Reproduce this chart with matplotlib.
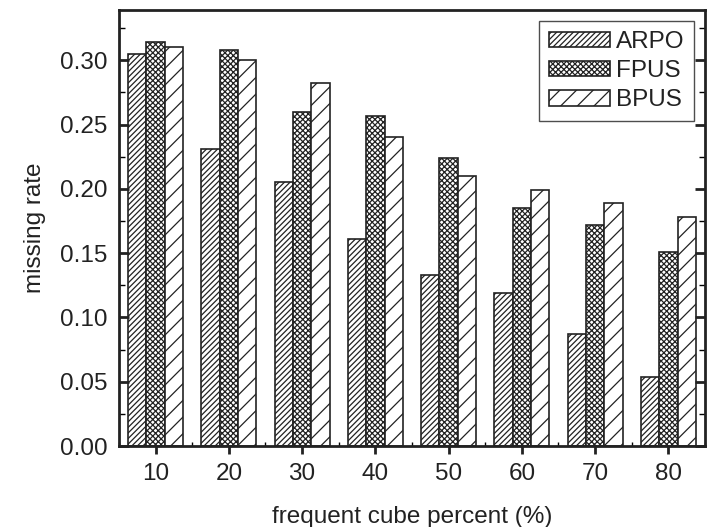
import numpy as np
import matplotlib
matplotlib.use("Agg")
import matplotlib.pyplot as plt
from matplotlib.ticker import MultipleLocator, FormatStrFormatter

plt.rcParams["font.family"] = ["Liberation Sans", "DejaVu Sans"]
plt.rcParams["hatch.linewidth"] = 0.9
plt.rcParams["hatch.color"] = "#222222"

percents = ["10", "20", "30", "40", "50", "60", "70", "80"]
arpo = [0.305, 0.231, 0.205, 0.161, 0.133, 0.119, 0.087, 0.054]
fpus = [0.314, 0.308, 0.260, 0.257, 0.224, 0.185, 0.172, 0.151]
bpus = [0.310, 0.300, 0.282, 0.240, 0.210, 0.199, 0.189, 0.178]

fig = plt.figure(figsize=(7.15, 5.27), dpi=100)
ax = fig.add_axes([0.1664, 0.1537, 0.8196, 0.827])

x = np.arange(1, len(percents) + 1)
w = 0.25
kw = dict(width=w, color="white", edgecolor="#222222", linewidth=1.2)
ax.bar(x - w, arpo, hatch="//////", label="ARPO", **kw)
ax.bar(x, fpus, hatch="xxxxxx", label="FPUS", **kw)
ax.bar(x + w, bpus, hatch="//", label="BPUS", **kw)

ax.set_xlim(0.5, 8.5)
ax.set_ylim(0, 0.339)
ax.set_xticks(x)
ax.set_xticklabels(percents)
ax.xaxis.set_minor_locator(MultipleLocator(0.5))
ax.yaxis.set_major_locator(MultipleLocator(0.05))
ax.yaxis.set_minor_locator(MultipleLocator(0.025))
ax.yaxis.set_major_formatter(FormatStrFormatter("%.2f"))

fs = 17.5
ax.tick_params(axis="x", which="major", direction="out", length=6, width=2, labelsize=fs,
               pad=6, colors="#222222")
ax.tick_params(axis="x", which="minor", direction="in", length=3, width=1)
ax.tick_params(axis="y", which="major", direction="in", length=7, width=2, labelsize=fs,
               right=True, pad=8, colors="#222222")
ax.tick_params(axis="y", which="minor", direction="in", length=4, width=1, right=True)
for s in ax.spines.values():
    s.set_linewidth(2)
    s.set_color("#222222")

ax.set_xlabel("frequent cube percent (%)", fontsize=fs, labelpad=15, color="#222222")
ax.set_ylabel("missing rate", fontsize=fs, labelpad=10, color="#222222")

leg = ax.legend(loc="upper right", fontsize=fs, fancybox=False, edgecolor="#222222",
                handlelength=2.5, handleheight=0.6, borderaxespad=0.45,
                handletextpad=0.25, labelspacing=0.3, borderpad=0.4)
leg.get_frame().set_linewidth(1.0)
for t in leg.get_texts():
    t.set_color("#222222")

fig.savefig("out.png", dpi=100)
